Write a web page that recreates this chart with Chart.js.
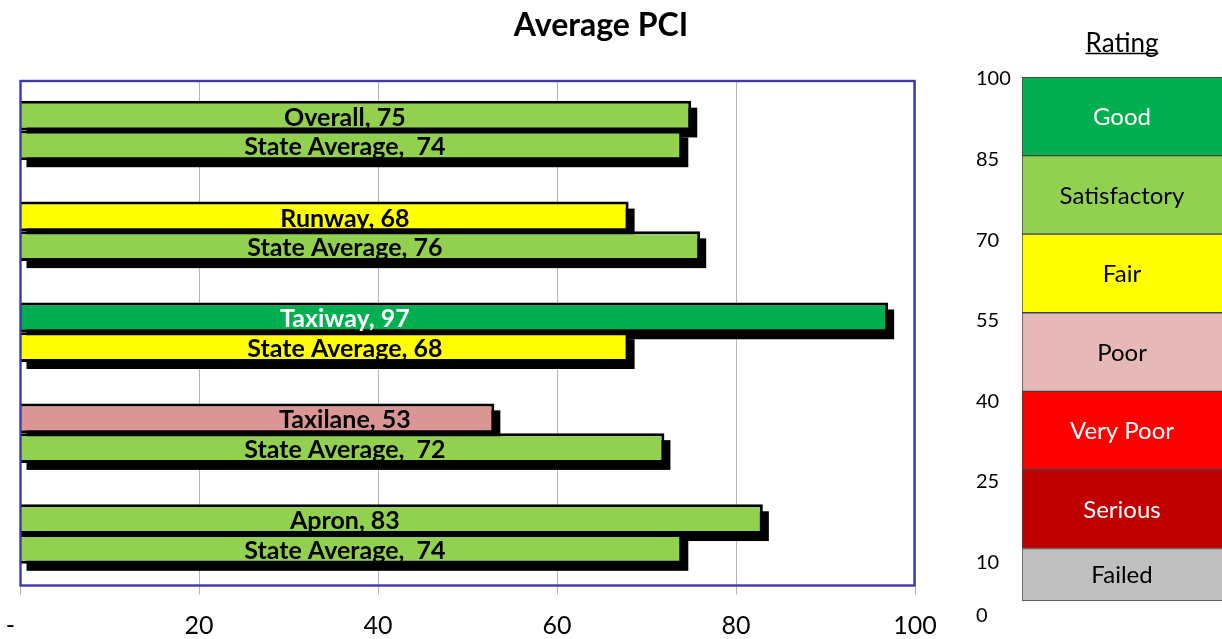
<!DOCTYPE html>
<html><head><meta charset="utf-8">
<script src="https://cdn.jsdelivr.net/npm/chart.js@4.4.0/dist/chart.umd.min.js"></script>
<style>
html,body{margin:0;padding:0;background:#fff;}
#wrap{position:relative;width:1222px;height:639px;overflow:hidden;}
#main{position:absolute;left:0;top:0;}
#rating{position:absolute;left:950px;top:0;}
</style></head><body>
<div id="wrap">
<canvas id="main" width="1222" height="639"></canvas>
<canvas id="rating" width="272" height="639"></canvas>
</div>
<script>
// ---- data ----
const categories = ['Overall', 'Runway', 'Taxiway', 'Taxilane', 'Apron'];
const siteValues = [75, 68, 97, 53, 83];
const stateValues = [74, 76, 68, 72, 74];
const stateLabelSpaces = [2, 1, 1, 2, 2];
const stateLabelText = 'State Average,';
const xTickStep = 20;
const ratingNames = ['Failed', 'Serious', 'Very Poor', 'Poor', 'Fair', 'Satisfactory', 'Good'];
const ratingBreaks = [0, 10, 25, 40, 55, 70, 85, 100];

// ---- styles ----
const siteColors = ['#92D050', '#FFFF00', '#00B050', '#DA9694', '#92D050'];
const stateColors = ['#92D050', '#92D050', '#FFFF00', '#92D050', '#92D050'];
const siteTextColors = ['#000', '#000', '#fff', '#000', '#000'];
const stateTextColors = ['#000', '#000', '#000', '#000', '#000'];
const bandColors = ['#BFBFBF', '#C00000', '#FF0000', '#E6B8B7', '#FFFF00', '#92D050', '#00B050'];
const bandTextColors = ['#000', '#fff', '#fff', '#000', '#000', '#000', '#fff'];
const FONT = 'Lato';
const SHADOW_DX = 6, SHADOW_DY = 7;
const LABEL_CENTER_VALUE = 36.3;

const shadowPlugin = {
  id: 'barShadow',
  beforeDatasetsDraw(chart) {
    const ctx = chart.ctx;
    ctx.save();
    ctx.fillStyle = '#000';
    chart.data.datasets.forEach((ds, i) => {
      chart.getDatasetMeta(i).data.forEach(bar => {
        const p = bar.getProps(['x', 'y', 'base', 'height'], true);
        const left = Math.min(p.x, p.base), w = Math.abs(p.x - p.base);
        ctx.fillRect(left + SHADOW_DX, p.y - p.height / 2 + SHADOW_DY, w, p.height);
      });
    });
    ctx.restore();
  }
};

const barLabelPlugin = {
  id: 'barLabels',
  afterDatasetsDraw(chart) {
    const ctx = chart.ctx;
    const cx = chart.scales.x.getPixelForValue(LABEL_CENTER_VALUE);
    ctx.save();
    ctx.font = 'bold 25px ' + FONT;
    ctx.textAlign = 'center';
    ctx.textBaseline = 'middle';
    chart.getDatasetMeta(0).data.forEach((bar, i) => {
      ctx.fillStyle = siteTextColors[i];
      ctx.fillText(categories[i] + ', ' + siteValues[i], cx, bar.y + 2);
    });
    chart.getDatasetMeta(1).data.forEach((bar, i) => {
      ctx.fillStyle = stateTextColors[i];
      ctx.fillText(stateLabelText + ' '.repeat(stateLabelSpaces[i]) + stateValues[i], cx, bar.y + 2);
    });
    ctx.restore();
  }
};

const framePlugin = {
  id: 'frame',
  afterDraw(chart) {
    const a = chart.chartArea, ctx = chart.ctx;
    ctx.save();
    ctx.strokeStyle = '#3C3CA6';
    ctx.lineWidth = 2.4;
    ctx.strokeRect(a.left + 0.5, a.top + 1, a.right - a.left - 1, a.bottom - a.top);
    ctx.restore();
  }
};

new Chart(document.getElementById('main'), {
  type: 'bar',
  data: {
    labels: categories,
    datasets: [
      { label: 'Site', data: siteValues, backgroundColor: siteColors, borderColor: '#000', borderWidth: 3,
        borderSkipped: 'start', categoryPercentage: 0.59, barPercentage: 1 },
      { label: 'State Average', data: stateValues, backgroundColor: stateColors, borderColor: '#000', borderWidth: 3,
        borderSkipped: 'start', categoryPercentage: 0.59, barPercentage: 1 }
    ]
  },
  options: {
    indexAxis: 'y', responsive: false, animation: false, devicePixelRatio: 1,
    layout: { padding: { left: 0, right: 20, top: 0, bottom: 0 } },
    plugins: {
      legend: { display: false }, tooltip: { enabled: false },
      title: { display: true, text: 'Average PCI', color: '#000',
        font: { family: FONT, size: 32, weight: 'bold' }, padding: { top: 6, bottom: 35.6 } }
    },
    scales: {
      x: { type: 'linear', min: 0, max: 100, position: 'bottom',
        afterFit: s => { s.height = 54.5; s.paddingLeft = 0; s.paddingRight = 0; },
        grid: { color: '#B4B4B4', lineWidth: 1, tickLength: 10, drawTicks: true },
        border: { display: false },
        ticks: { stepSize: xTickStep, color: '#000', font: { family: FONT, size: 25 }, padding: 16,
          maxRotation: 0, autoSkip: false,
          callback: v => v === 0 ? '-   ' : String(v) } },
      y: { type: 'category', ticks: { display: false }, grid: { display: false }, border: { display: false },
        afterFit: s => { s.width = 20; s.paddingTop = 0; s.paddingBottom = 0; } },
      yRight: { type: 'linear', position: 'right', ticks: { display: false }, grid: { display: false },
        border: { display: false }, afterFit: s => { s.width = 287; s.paddingTop = 0; s.paddingBottom = 0; } }
    }
  },
  plugins: [shadowPlugin, barLabelPlugin, framePlugin]
});

const bandLabelPlugin = {
  id: 'bandLabels',
  afterDatasetsDraw(chart) {
    const ctx = chart.ctx;
    ctx.save();
    ctx.font = '24px ' + FONT;
    ctx.textAlign = 'center';
    ctx.textBaseline = 'middle';
    chart.data.datasets.forEach((ds, i) => {
      const el = chart.getDatasetMeta(i).data[0];
      ctx.fillStyle = bandTextColors[i];
      ctx.fillText(ratingNames[i], el.x, (el.y + el.base) / 2 + 1);
    });
    ctx.restore();
  }
};

const underlinePlugin = {
  id: 'titleUnderline',
  afterDraw(chart) {
    const tb = chart.titleBlock;
    if (!tb) return;
    const ctx = chart.ctx;
    ctx.save();
    ctx.font = '26px ' + FONT;
    const w = ctx.measureText(tb.options.text).width;
    const cx = tb.left + tb.width / 2;
    const y = tb.top + 28 + 15.6 + 10;
    ctx.strokeStyle = '#000';
    ctx.lineWidth = 1.5;
    ctx.beginPath();
    ctx.moveTo(cx - w / 2, y);
    ctx.lineTo(cx + w / 2, y);
    ctx.stroke();
    ctx.restore();
  }
};

new Chart(document.getElementById('rating'), {
  type: 'bar',
  data: {
    labels: ['Rating'],
    datasets: ratingNames.map((n, i) => ({
      label: n, data: [[ratingBreaks[i], ratingBreaks[i + 1]]],
      backgroundColor: bandColors[i], borderColor: '#404040', borderWidth: 1, borderSkipped: 'right',
      grouped: false, categoryPercentage: 1, barPercentage: 1
    }))
  },
  options: {
    responsive: false, animation: false, devicePixelRatio: 1,
    layout: { padding: { left: 26, right: 0, top: 0, bottom: 14 } },
    plugins: {
      legend: { display: false }, tooltip: { enabled: false },
      title: { display: true, text: 'Rating', fullSize: false, color: '#000',
        font: { family: FONT, size: 26, weight: 'normal' }, padding: { top: 28, bottom: 17.8 } }
    },
    scales: {
      x: { display: false },
      y: { display: false, min: -4.6, max: 100 },
      yLab: { position: 'left', min: -1.68, max: 100.37,
        afterBuildTicks: s => { s.ticks = ratingBreaks.map(v => ({ value: v })); },
        afterFit: s => { s.width = 46; },
        grid: { display: false }, border: { display: false },
        ticks: { crossAlign: 'far', color: '#000', font: { family: FONT, size: 20 }, padding: 0 } }
    }
  },
  plugins: [bandLabelPlugin, underlinePlugin]
});
</script>
</body></html>
